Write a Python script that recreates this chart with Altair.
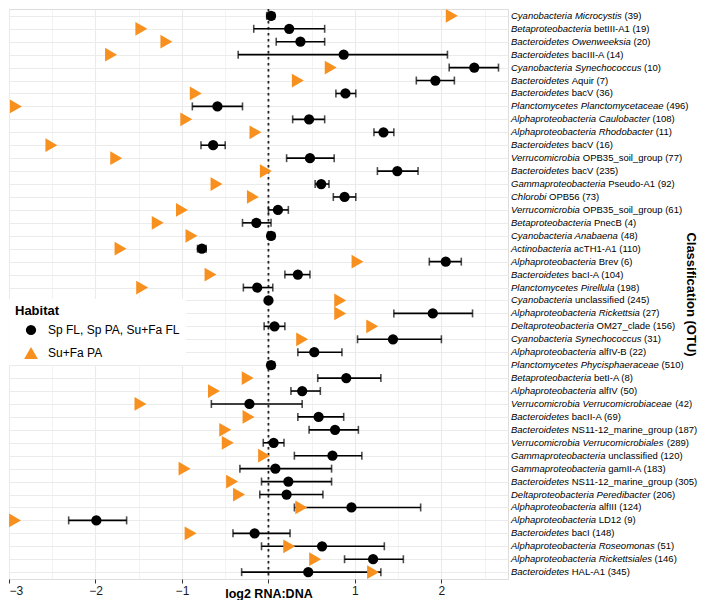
import altair as alt
import pandas as pd

# ---------------- data ----------------
phylum = [
    "Cyanobacteria", "Betaproteobacteria", "Bacteroidetes", "Bacteroidetes", "Cyanobacteria",
    "Bacteroidetes", "Bacteroidetes", "Planctomycetes", "Alphaproteobacteria", "Alphaproteobacteria",
    "Bacteroidetes", "Verrucomicrobia", "Bacteroidetes", "Gammaproteobacteria", "Chlorobi",
    "Verrucomicrobia", "Betaproteobacteria", "Cyanobacteria", "Actinobacteria", "Alphaproteobacteria",
    "Bacteroidetes", "Planctomycetes", "Cyanobacteria", "Alphaproteobacteria", "Deltaproteobacteria",
    "Cyanobacteria", "Alphaproteobacteria", "Planctomycetes", "Betaproteobacteria", "Alphaproteobacteria",
    "Verrucomicrobia", "Bacteroidetes", "Bacteroidetes", "Verrucomicrobia", "Gammaproteobacteria",
    "Gammaproteobacteria", "Bacteroidetes", "Deltaproteobacteria", "Alphaproteobacteria", "Alphaproteobacteria",
    "Bacteroidetes", "Alphaproteobacteria", "Alphaproteobacteria", "Bacteroidetes",
]
taxon = [
    "Microcystis", "betIII-A1", "Owenweeksia", "bacIII-A", "Synechococcus",
    "Aquir", "bacV", "Planctomycetaceae", "Caulobacter", "Rhodobacter",
    "bacV", "OPB35_soil_group", "bacV", "Pseudo-A1", "OPB56",
    "OPB35_soil_group", "PnecB", "Anabaena", "acTH1-A1", "Brev",
    "bacI-A", "Pirellula", "unclassified", "Rickettsia", "OM27_clade",
    "Synechococcus", "alfIV-B", "Phycisphaeraceae", "betI-A", "alfIV",
    "Verrucomicrobiaceae", "bacII-A", "NS11-12_marine_group", "Verrucomicrobiales", "unclassified",
    "gamII-A", "NS11-12_marine_group", "Peredibacter", "alfIII", "LD12",
    "bacI", "Roseomonas", "Rickettsiales", "HAL-A1",
]
taxon_italic = [
    True, False, True, False, True,
    False, False, True, True, True,
    False, False, False, False, False,
    False, False, True, False, False,
    False, True, False, True, False,
    True, False, True, False, False,
    True, False, False, True, False,
    False, False, True, False, False,
    False, True, True, False,
]
otu = [
    39, 19, 20, 14, 10, 7, 36, 496, 108, 11,
    16, 77, 235, 92, 73, 61, 4, 48, 110, 6,
    104, 198, 245, 27, 156, 31, 22, 510, 8, 50,
    42, 69, 187, 289, 120, 183, 305, 206, 124, 9,
    148, 51, 146, 345,
]
fl_mean = [
    0.03, 0.24, 0.37, 0.87, 2.38, 1.93, 0.89, -0.59, 0.47, 1.33,
    -0.64, 0.48, 1.49, 0.61, 0.88, 0.11, -0.14, 0.03, -0.77, 2.05,
    0.34, -0.13, 0.00, 1.90, 0.07, 1.44, 0.53, 0.03, 0.90, 0.39,
    -0.22, 0.58, 0.77, 0.06, 0.74, 0.08, 0.23, 0.21, 0.96, -1.99,
    -0.16, 0.62, 1.21, 0.46,
]
fl_lo = [
    -0.02, -0.17, 0.09, -0.35, 2.09, 1.71, 0.78, -0.88, 0.28, 1.22,
    -0.78, 0.21, 1.26, 0.54, 0.75, 0.00, -0.30, -0.01, -0.82, 1.86,
    0.19, -0.29, -0.02, 1.45, -0.05, 1.03, 0.34, -0.01, 0.57, 0.26,
    -0.66, 0.34, 0.47, -0.06, 0.30, -0.33, -0.08, -0.10, 0.30, -2.31,
    -0.41, -0.08, 0.88, -0.31,
]
fl_hi = [
    0.07, 0.65, 0.65, 2.07, 2.66, 2.15, 1.01, -0.30, 0.65, 1.45,
    -0.50, 0.76, 1.73, 0.70, 1.01, 0.23, 0.03, 0.07, -0.72, 2.23,
    0.48, 0.05, 0.02, 2.36, 0.19, 2.00, 0.85, 0.07, 1.30, 0.60,
    0.39, 0.87, 1.04, 0.18, 1.08, 0.73, 0.73, 0.63, 1.76, -1.64,
    0.25, 1.34, 1.56, 1.30,
]
pa_val = [
    2.12, -1.47, -1.18, -1.82, 0.72, 0.34, -0.84, -2.92, -0.95, -0.15,
    -2.51, -1.76, -0.03, -0.60, -0.18, -1.00, -1.28, -0.89, -1.71, 1.03,
    -0.67, -1.46, 0.83, 0.83, 1.20, 0.39, None, None, -0.24, -0.63,
    -1.48, -0.23, -0.50, -0.47, -0.05, -0.97, -0.42, -0.34, 0.38, -2.93,
    -0.90, 0.24, 0.54, 1.21,
]
habitats = ["Sp FL, Sp PA, Su+Fa FL", "Su+Fa PA"]
x_ticks = [-3, -2.5, -2, -1.5, -1, -0.5, 0, 0.5, 1, 1.5, 2, 2.5]
x_domain = [-3.0, 2.77]
zero_line = [0]

# ---------------- layout / style ----------------
W, H = 499, 570
FS = 9.5
FONT = "Liberation Sans"

# Helvetica/Arial advance widths (per 1000 em) for splitting italic/regular label parts
_w = {" ": 278, "(": 333, ")": 333, "-": 333, "_": 556, ".": 278, ",": 278, "+": 584}
for ch in "0123456789":
    _w[ch] = 556
_w.update(dict(zip("ABCDEFGHIJKLMNOPQRSTUVWXYZ",
                   [667, 667, 722, 722, 667, 611, 778, 722, 278, 500, 667, 556, 833,
                    722, 778, 667, 778, 722, 667, 611, 722, 667, 944, 667, 667, 611])))
_w.update(dict(zip("abcdefghijklmnopqrstuvwxyz",
                   [556, 556, 500, 556, 556, 278, 556, 556, 222, 222, 500, 222, 833,
                    556, 556, 556, 556, 333, 500, 278, 556, 500, 722, 500, 500, 500])))


def text_width(s, size):
    return sum(_w.get(c, 556) for c in s) * size / 1000.0


labels, it_parts, rg_parts = [], [], []
for p, t, ti, n in zip(phylum, taxon, taxon_italic, otu):
    labels.append(f"{p} {t} ({n})")
    if ti:
        it_parts.append(f"{p} {t}")
        rg_parts.append(f"({n})")
    else:
        it_parts.append(p)
        rg_parts.append(f"{t} ({n})")

lab_df = pd.DataFrame({
    "label": labels,
    "it": it_parts,
    "rg": rg_parts,
    "off": [text_width(s + " ", FS) for s in it_parts],
})

fl_df = pd.DataFrame({"label": labels, "mean": fl_mean, "lo": fl_lo, "hi": fl_hi})

pts = []
for lab, v in zip(labels, fl_mean):
    pts.append({"label": lab, "value": v, "Habitat": habitats[0]})
for lab, v in zip(labels, pa_val):
    if v is not None:
        pts.append({"label": lab, "value": v, "Habitat": habitats[1]})
pts_df = pd.DataFrame(pts)

zero_df = pd.DataFrame({"z": zero_line})

half = "datum.value % 1 != 0"

x_scale = alt.Scale(domain=x_domain, nice=False, zero=False)
x_axis = alt.Axis(
    values=x_ticks,
    labelExpr="(datum.value % 1 != 0 || datum.value == 0) ? '' : format(datum.value, 'd')",
    tickSize=4,
    tickColor="#333333",
    tickWidth=1,
    tickOpacity={"condition": {"test": half, "value": 0}, "value": 1},
    grid=True,
    gridColor="#ebebeb",
    gridWidth={"condition": {"test": half, "value": 0.6}, "value": 1.1},
    domain=False,
    labelFontSize=12,
    labelColor="#1a1a1a",
    labelPadding=2,
    labelFont=FONT,
    title="log2 RNA:DNA",
    titleFont=FONT,
    titleFontSize=12.5,
    titleFontWeight="bold",
    titleColor="black",
    titleX=(0 - x_domain[0]) / (x_domain[1] - x_domain[0]) * W,
    titleY=14,
    titleAlign="center",
    titleBaseline="middle",
)

y_enc = alt.Y(
    "label:N",
    sort=labels,
    scale=alt.Scale(type="point", padding=0.53),
    axis=alt.Axis(
        orient="right",
        labels=False,
        ticks=False,
        domain=False,
        grid=True,
        gridColor="#ebebeb",
        gridWidth=1.1,
        title="Classification (OTU)",
        titleFont=FONT,
        titleFontSize=13,
        titleFontWeight="bold",
        titleColor="black",
        titleAngle=90,
        titleX=182,
        titleY=H / 2,
        titleAlign="center",
        titleBaseline="middle",
    ),
)

zero = alt.Chart(zero_df).mark_rule(
    color="#222222", strokeWidth=1.8, strokeDash=[2.5, 3.5]
).encode(x=alt.X("z:Q", scale=x_scale, axis=x_axis))

err = alt.Chart(fl_df).mark_rule(color="black", strokeWidth=1.6).encode(
    x=alt.X("lo:Q", scale=x_scale, axis=x_axis), x2="hi:Q", y=y_enc
)
cap_lo = alt.Chart(fl_df).mark_tick(color="black", orient="vertical", size=8, thickness=1.6).encode(
    x=alt.X("lo:Q", scale=x_scale, axis=x_axis), y=y_enc
)
cap_hi = alt.Chart(fl_df).mark_tick(color="black", orient="vertical", size=8, thickness=1.6).encode(
    x=alt.X("hi:Q", scale=x_scale, axis=x_axis), y=y_enc
)

points = alt.Chart(pts_df).mark_point(filled=True, opacity=1, angle=90, strokeWidth=0).encode(
    x=alt.X("value:Q", scale=x_scale, axis=x_axis),
    y=y_enc,
    shape=alt.Shape("Habitat:N", scale=alt.Scale(domain=habitats, range=["circle", "triangle-up"]),
                    legend=alt.Legend(
                        orient="none", legendX=0, legendY=290, fillColor="white", padding=6,
                        title="Habitat", titleFont=FONT, titleFontSize=13, titleFontWeight="bold",
                        titleColor="black", titlePadding=6,
                        labelFont=FONT, labelFontSize=12, labelColor="black", labelLimit=400,
                        symbolOffset=8, labelOffset=9, rowPadding=9,
                    )),
    color=alt.Color("Habitat:N", scale=alt.Scale(domain=habitats, range=["black", "#F7901E"])),
    size=alt.Size("Habitat:N", scale=alt.Scale(domain=habitats, range=[105, 190])),
)

it_layer = alt.Chart(lab_df).mark_text(
    align="left", baseline="middle", fontStyle="italic", fontSize=FS, font=FONT, color="black"
).encode(x=alt.value(W + 3), y=y_enc, text="it:N")

rg_layer = alt.Chart(lab_df).mark_text(
    align="left", baseline="middle", fontSize=FS, font=FONT, color="black", dx=alt.expr("datum.off")
).encode(x=alt.value(W + 3), y=y_enc, text="rg:N")

chart = alt.layer(zero, err, cap_lo, cap_hi, points, it_layer, rg_layer).properties(
    width=W, height=H, padding={"left": 0, "top": 0, "right": 0, "bottom": 0}
).configure_view(stroke="#8c8c8c", strokeWidth=1).configure(font=FONT)

chart.save("out.html", embed_options={"renderer": "svg", "actions": False})
